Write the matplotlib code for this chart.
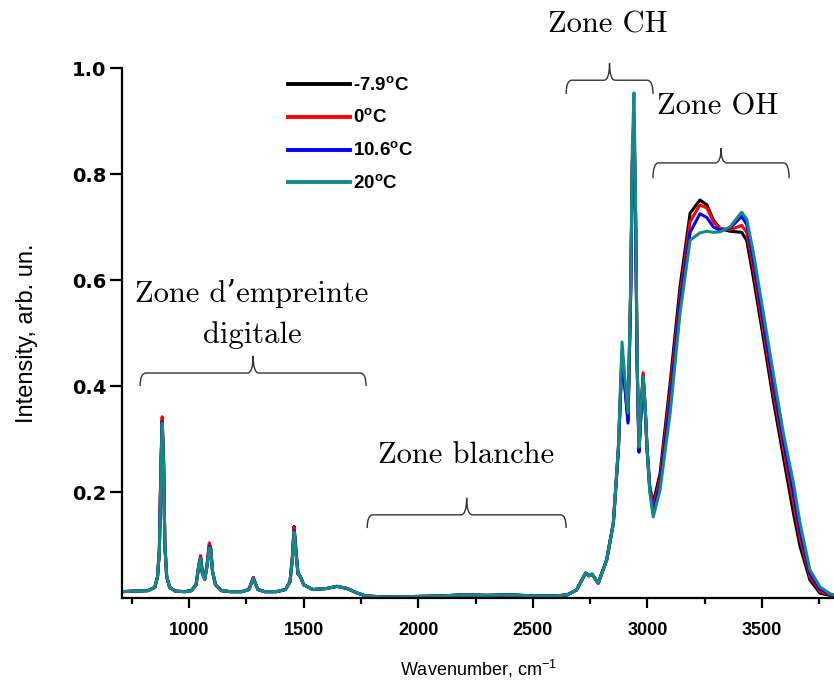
import matplotlib
matplotlib.use("Agg")
import matplotlib.pyplot as plt
from matplotlib.path import Path
from matplotlib.patches import PathPatch
from matplotlib.ticker import MultipleLocator, FixedLocator, FormatStrFormatter

plt.rcParams['font.family'] = ['Liberation Sans', 'DejaVu Sans']
plt.rcParams['mathtext.fontset'] = 'custom'
plt.rcParams['mathtext.rm'] = 'Liberation Sans'
plt.rcParams['mathtext.bf'] = 'Liberation Sans:bold'

# Raman spectra (wavenumber in cm-1, intensity arb. un.)
wavenumber = [705, 760, 820, 850, 862, 870, 876, 882, 888, 894, 902, 915, 940, 980,
              1010, 1030, 1042, 1050, 1058, 1068, 1078, 1088, 1094, 1102, 1115, 1140,
              1180, 1230, 1260, 1272, 1280, 1288, 1300, 1330, 1380, 1420, 1440, 1450,
              1458, 1465, 1475, 1485, 1500, 1540, 1600, 1645, 1690, 1730, 1770, 1850,
              2000, 2100, 2200, 2300, 2400, 2500, 2600, 2650, 2690, 2715, 2730, 2745,
              2758, 2785, 2822, 2851, 2873, 2889, 2902, 2915, 2927, 2934, 2941, 2948,
              2955, 2963, 2972, 2981, 2990, 2998, 3010, 3025, 3055, 3099, 3142, 3186,
              3229, 3259, 3288, 3317, 3360, 3411, 3433, 3462, 3506, 3549, 3593, 3637,
              3666, 3709, 3753, 3797, 3815]

# fingerprint + white zone (705 .. 2600), per temperature
low_m79 = [0.012, 0.013, 0.014, 0.02, 0.04, 0.09, 0.23, 0.335, 0.27, 0.10, 0.04, 0.02, 0.013, 0.012,
           0.014, 0.025, 0.06, 0.077, 0.046, 0.036, 0.062, 0.10, 0.094, 0.05, 0.025, 0.014,
           0.012, 0.012, 0.016, 0.029, 0.038, 0.029, 0.016, 0.012, 0.012, 0.016, 0.031, 0.075,
           0.135, 0.095, 0.046, 0.041, 0.025, 0.016, 0.018, 0.022, 0.018, 0.01, 0.004, 0.002,
           0.003, 0.004, 0.006, 0.005, 0.006, 0.004, 0.004]
low_0 = [0.012, 0.013, 0.014, 0.02, 0.04, 0.09, 0.235, 0.342, 0.27, 0.10, 0.04, 0.02, 0.013, 0.012,
         0.014, 0.025, 0.062, 0.080, 0.046, 0.036, 0.063, 0.104, 0.095, 0.05, 0.025, 0.014,
         0.012, 0.012, 0.016, 0.029, 0.039, 0.029, 0.016, 0.012, 0.012, 0.016, 0.031, 0.074,
         0.133, 0.094, 0.046, 0.041, 0.025, 0.016, 0.018, 0.022, 0.018, 0.01, 0.004, 0.002,
         0.003, 0.004, 0.006, 0.005, 0.006, 0.004, 0.004]
low_106 = [0.012, 0.013, 0.014, 0.02, 0.04, 0.09, 0.225, 0.332, 0.26, 0.10, 0.04, 0.02, 0.013, 0.012,
           0.014, 0.025, 0.06, 0.076, 0.045, 0.035, 0.06, 0.097, 0.091, 0.05, 0.025, 0.014,
           0.012, 0.012, 0.016, 0.028, 0.037, 0.028, 0.016, 0.012, 0.012, 0.016, 0.03, 0.071,
           0.127, 0.091, 0.045, 0.04, 0.025, 0.016, 0.018, 0.022, 0.018, 0.01, 0.004, 0.002,
           0.003, 0.004, 0.006, 0.005, 0.006, 0.004, 0.004]
low_20 = [0.012, 0.013, 0.014, 0.02, 0.04, 0.09, 0.22, 0.33, 0.26, 0.10, 0.04, 0.02, 0.013, 0.012,
          0.014, 0.025, 0.06, 0.075, 0.045, 0.035, 0.06, 0.095, 0.09, 0.05, 0.025, 0.014,
          0.012, 0.012, 0.016, 0.028, 0.037, 0.028, 0.016, 0.012, 0.012, 0.016, 0.03, 0.07,
          0.125, 0.09, 0.045, 0.04, 0.025, 0.016, 0.018, 0.022, 0.018, 0.01, 0.004, 0.002,
          0.003, 0.004, 0.006, 0.005, 0.006, 0.004, 0.004]

# CH zone (2650 .. 3010)
ch_m79 = [0.006, 0.015, 0.035, 0.047, 0.042, 0.045, 0.028, 0.072, 0.141, 0.28, 0.46, 0.40,
          0.335, 0.58, 0.82, 0.90, 0.72, 0.44, 0.28, 0.35, 0.42, 0.36, 0.285, 0.21]
ch_0 = [0.006, 0.015, 0.035, 0.047, 0.042, 0.045, 0.028, 0.072, 0.141, 0.28, 0.465, 0.40,
        0.335, 0.59, 0.83, 0.915, 0.73, 0.44, 0.28, 0.355, 0.425, 0.36, 0.285, 0.21]
ch_106 = [0.006, 0.015, 0.035, 0.047, 0.042, 0.045, 0.028, 0.072, 0.141, 0.28, 0.455, 0.395,
          0.33, 0.58, 0.82, 0.905, 0.72, 0.44, 0.275, 0.35, 0.415, 0.355, 0.28, 0.205]
ch_20 = [0.006, 0.015, 0.035, 0.047, 0.042, 0.045, 0.028, 0.072, 0.141, 0.285, 0.483, 0.411,
         0.349, 0.60, 0.85, 0.953, 0.75, 0.45, 0.285, 0.36, 0.417, 0.36, 0.285, 0.20]

# OH zone (3025 .. 3815)
oh_m79 = [0.179, 0.235, 0.406, 0.587, 0.726, 0.751, 0.742, 0.713, 0.697, 0.692, 0.69, 0.675,
          0.605, 0.49, 0.374, 0.266, 0.16, 0.097, 0.034, 0.009, 0.005, 0.004]
oh_0 = [0.17, 0.225, 0.39, 0.57, 0.71, 0.742, 0.736, 0.71, 0.697, 0.695, 0.703, 0.69,
        0.622, 0.505, 0.39, 0.282, 0.18, 0.112, 0.04, 0.013, 0.006, 0.005]
oh_106 = [0.162, 0.215, 0.37, 0.555, 0.69, 0.725, 0.718, 0.70, 0.694, 0.698, 0.72, 0.705,
          0.637, 0.52, 0.405, 0.296, 0.198, 0.125, 0.046, 0.017, 0.007, 0.005]
oh_20 = [0.153, 0.204, 0.349, 0.537, 0.675, 0.689, 0.692, 0.69, 0.691, 0.70, 0.728, 0.715,
         0.652, 0.537, 0.424, 0.311, 0.217, 0.141, 0.053, 0.021, 0.008, 0.006]

labels = [r'-7.9$^{\mathbf{o}}$C', r'0$^{\mathbf{o}}$C', r'10.6$^{\mathbf{o}}$C', r'20$^{\mathbf{o}}$C']
colors = ['#000000', '#ff0000', '#0000ff', '#138a84']
series = [low_m79 + ch_m79 + oh_m79, low_0 + ch_0 + oh_0,
          low_106 + ch_106 + oh_106, low_20 + ch_20 + oh_20]

SERIF = ['cmr10', 'DejaVu Serif']


def brace(ax, x0, x1, y, drop, tip, r):
    xm = (x0 + x1) / 2
    verts = [(x0, drop), (x0, y), (x0 + r, y),
             (xm - r, y), (xm, y), (xm, tip),
             (xm, y), (xm + r, y),
             (x1 - r, y), (x1, y), (x1, drop)]
    codes = [Path.MOVETO, Path.CURVE3, Path.CURVE3,
             Path.LINETO, Path.CURVE3, Path.CURVE3,
             Path.CURVE3, Path.CURVE3,
             Path.LINETO, Path.CURVE3, Path.CURVE3]
    ax.add_patch(PathPatch(Path(verts, codes), fill=False, lw=1.0,
                           edgecolor='#333333', clip_on=False))


fig = plt.figure(figsize=(8.34, 6.97), dpi=100)
ax = fig.add_axes([0.1463, 0.142, 0.8537, 0.7604])

for ys, c, lab in zip(series, colors, labels):
    ax.plot(wavenumber, ys, color=c, lw=2.2, label=lab)

ax.set_xlim(707, 3814)
ax.set_ylim(0, 1.0)
ax.xaxis.set_major_locator(MultipleLocator(500))
ax.xaxis.set_minor_locator(FixedLocator([750, 1250, 1750, 2250, 2750, 3250, 3750]))
ax.yaxis.set_major_locator(FixedLocator([0.2, 0.4, 0.6, 0.8, 1.0]))
ax.yaxis.set_major_formatter(FormatStrFormatter('%.1f'))
ax.spines['top'].set_visible(False)
ax.spines['right'].set_visible(False)
for s in ('left', 'bottom'):
    ax.spines[s].set_linewidth(1.6)
ax.tick_params(axis='y', which='major', direction='out', length=8.5, width=1.6, pad=3)
ax.tick_params(axis='x', which='major', direction='out', length=7, width=1.6,
               labelsize=13, pad=10)
ax.tick_params(axis='x', which='minor', direction='out', length=4, width=1.6)
for t in ax.get_xticklabels():
    t.set_fontweight('bold')
for t in ax.get_yticklabels():
    t.set_fontfamily('DejaVu Sans')
    t.set_fontweight('bold')
    t.set_fontsize(14)

ax.set_ylabel('Intensity, arb. un.', fontsize=17, labelpad=24)
ax.set_xlabel(r'Wavenumber, cm$^{\mathregular{-1}}$', fontsize=13, labelpad=14)

leg = ax.legend(loc='upper left', bbox_to_anchor=(0.233, 0.985), frameon=False,
                borderpad=0, borderaxespad=0, handlelength=3.3, handletextpad=0.15,
                labelspacing=0.75, prop={'weight': 'bold', 'size': 13.5})
for line in leg.get_lines():
    line.set_linewidth(2.8)

# zone annotations
brace(ax, 786, 1772, 0.4245, 0.40, 0.457, 25)
brace(ax, 1777, 2645, 0.157, 0.132, 0.189, 25)
brace(ax, 2645, 3024, 0.977, 0.951, 1.009, 25)
brace(ax, 3024, 3618, 0.821, 0.792, 0.849, 25)

ax.text(1275, 0.575, 'Zone d’empreinte', family=SERIF, fontsize=22, ha='center', va='center')
ax.text(1275, 0.496, 'digitale', family=SERIF, fontsize=22, ha='center', va='center')
ax.text(2209, 0.27, 'Zone blanche', family=SERIF, fontsize=22, ha='center', va='center')
ax.text(2828, 1.081, 'Zone CH', family=SERIF, fontsize=22, ha='center', va='center',
        clip_on=False)
ax.text(3308, 0.926, 'Zone OH', family=SERIF, fontsize=22, ha='center', va='center')

fig.savefig('out.png', dpi=100)
